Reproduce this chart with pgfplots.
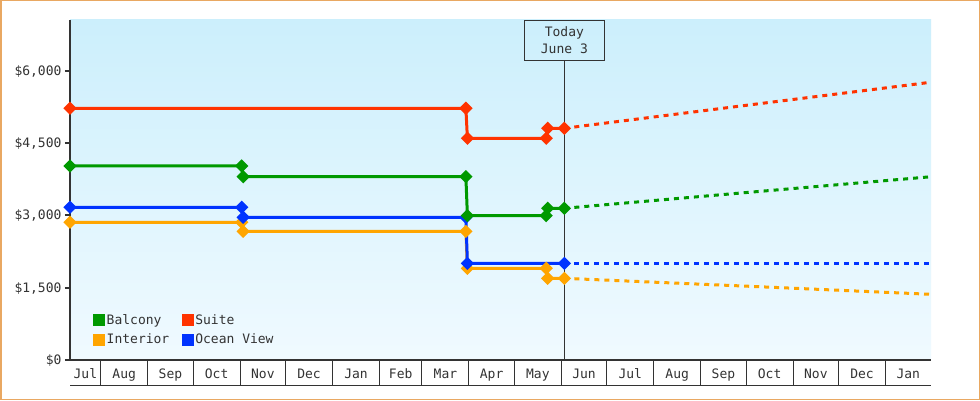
\documentclass[border=0pt]{standalone}
\usepackage{pgfplots}
\pgfplotsset{compat=1.18}
\usepackage{fontspec}
\newfontfamily\chartfont{DejaVu Sans Mono}

\definecolor{cSuite}{RGB}{255,51,0}
\definecolor{cBalcony}{RGB}{0,153,0}
\definecolor{cOcean}{RGB}{0,51,255}
\definecolor{cInterior}{RGB}{255,165,0}
\definecolor{cInk}{RGB}{51,51,51}
\definecolor{cFrame}{RGB}{233,168,98}
\definecolor{cSkyTop}{RGB}{204,239,252}
\definecolor{cSkyBot}{RGB}{240,250,255}

\newcommand\chartsize{\fontsize{13}{16}\selectfont}

% x = days counted from 1 July of the first year
\pgfplotsset{
  price/.style={line width=3pt, color=#1, mark=square*,
    mark size=3.2pt, mark options={rotate=45, rounded corners=1.2pt, solid}},
  trend/.style={line width=3pt, color=#1, dash pattern=on 5pt off 5pt},
}

\begin{document}
\begin{tikzpicture}[x=1pt,y=1pt]
\useasboundingbox (0,0) rectangle (980,400);
\fill[white] (0,0) rectangle (980,400);
\begin{axis}[
  at={(70pt,40pt)}, anchor=south west,
  width=861pt, height=340pt, scale only axis,
  xmin=10.7, xmax=579, ymin=0, ymax=7050,
  clip=false,
  axis lines=left, axis line style={-, cInk, line width=2pt},
  axis background/.style={top color=cSkyTop, bottom color=cSkyBot},
  tick align=outside,
  major tick length=5pt, minor tick length=25pt,
  ytick={0,1500,3000,4500,6000},
  yticklabels={{\$0},{\$1,500},{\$3,000},{\$4,500},{\$6,000}},
  ytick style={cInk, line width=2pt},
  xtick={20.85,46.5,77,107.5,138,168.5,199.5,229,258.5,289,319.5,350,380.5,411.5,442,472.5,503,533.5,564},
  xticklabels={Jul,Aug,Sep,Oct,Nov,Dec,Jan,Feb,Mar,Apr,May,Jun,Jul,Aug,Sep,Oct,Nov,Dec,Jan},
  major x tick style={draw=none},
  minor xtick={31,62,92,123,153,184,215,243,274,304,335,365,396,427,457,488,518,549},
  minor x tick style={cInk, line width=1pt},
  tick label style={font=\chartfont\chartsize, text=cInk},
  xticklabel style={anchor=base, yshift=-13pt},
  yticklabel style={anchor=base east, yshift=-4.5pt},
  legend columns=2,
  legend cell align=left,
  legend style={draw=none, fill=none, at={(0,0)}, anchor=south west,
    xshift=23pt, yshift=13pt, inner sep=0pt, row sep=5pt,
    font=\chartfont\chartsize, text=cInk,
    /tikz/every even column/.append style={column sep=11pt},
    nodes={inner sep=1.5pt}},
  legend image code/.code={\fill (0pt,-6pt) rectangle (12pt,6pt);},
]
\addlegendimage{fill=cBalcony, draw=none}
\addlegendentry{Balcony}
\addlegendimage{fill=cSuite, draw=none}
\addlegendentry{Suite}
\addlegendimage{fill=cInterior, draw=none}
\addlegendentry{Interior}
\addlegendimage{fill=cOcean, draw=none}
\addlegendentry{Ocean View}

% today marker
\node[draw=cInk, line width=1pt, anchor=north, minimum width=80pt,
  minimum height=40pt, align=center, inner sep=0pt,
  font=\chartfont\chartsize, text=cInk] (today) at (axis cs:337,7050)
  {Today\\[1pt]June 3};
\draw[cInk, line width=1pt] (today.south) -- (axis cs:337,0);

% Interior
\addplot[price=cInterior, forget plot] coordinates {
  (10.7,2856) (124,2856) (125,2668) (272,2668) (273,1901) (325,1901) (326,1694) (337,1694)};
\addplot[trend=cInterior, forget plot] coordinates {
  (337,1694) (458,1530) (579,1362)};
% Ocean View
\addplot[price=cOcean, forget plot] coordinates {
  (10.7,3167) (124,3167) (125,2959) (272,2959) (273,2005) (337,2005)};
\addplot[trend=cOcean, forget plot] coordinates {
  (337,2005) (579,2005)};
% Balcony
\addplot[price=cBalcony, forget plot] coordinates {
  (10.7,4023) (124,4023) (125,3801) (272,3801) (273,2993) (325,2993) (326,3146) (337,3146)};
\addplot[trend=cBalcony, forget plot] coordinates {
  (337,3146) (458,3475) (579,3800)};
% Suite
\addplot[price=cSuite, forget plot] coordinates {
  (10.7,5220) (272,5220) (273,4598) (325,4598) (326,4805) (337,4805)};
\addplot[trend=cSuite, forget plot] coordinates {
  (337,4805) (458,5285) (579,5760)};
\end{axis}
\draw[cInk, line width=1pt] (70,15) -- (931,15);
\draw[cFrame, line width=1.5pt] (0.75,0.75) rectangle (979.25,399.25);
\end{tikzpicture}
\end{document}
